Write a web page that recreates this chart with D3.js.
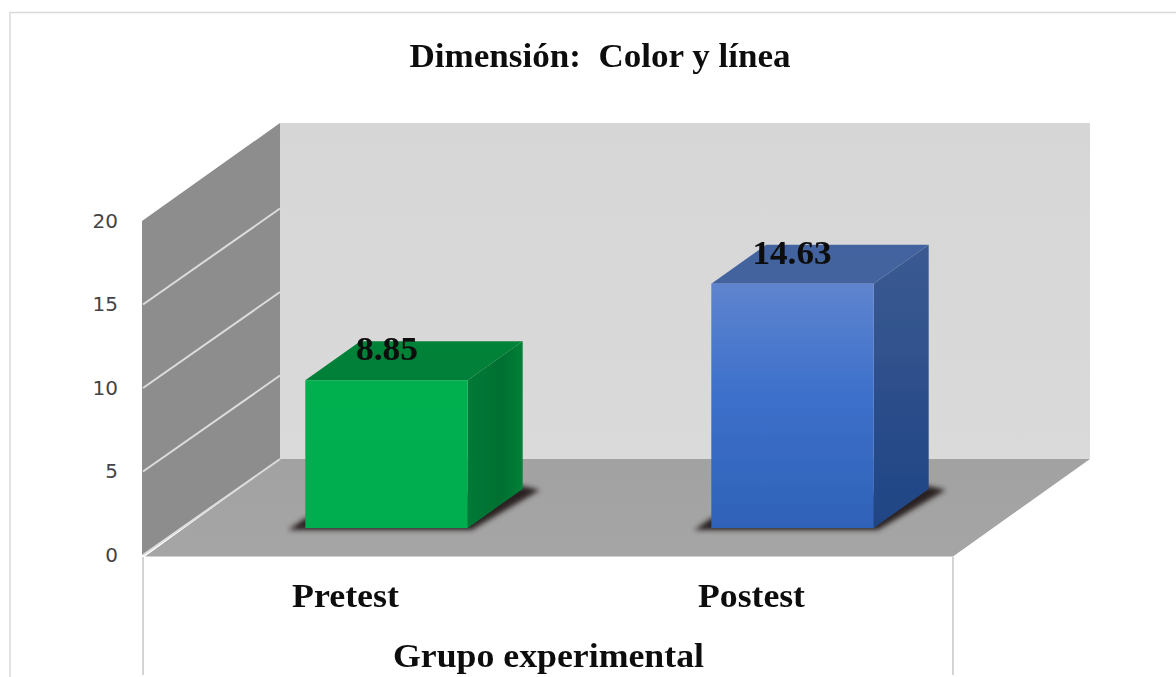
<!DOCTYPE html>
<html><head><meta charset="utf-8">
<script src="https://cdnjs.cloudflare.com/ajax/libs/d3/7.8.5/d3.min.js"></script>
<style>html,body{margin:0;padding:0;background:#fff;overflow:hidden}svg{display:block}</style>
</head><body><svg id="c" width="1176" height="677"></svg>
<script>
const categories = ["Pretest", "Postest"];
const values = [8.85, 14.63];
const valueLabels = ["8.85", "14.63"];
const yTicks = [0, 5, 10, 15, 20];
const titleText = "Dimensión:\u00A0\u00A0Color y línea";
const axisTitle = "Grupo experimental";

const svg = d3.select("#c");
const W = 1176, H = 677;

const frontLeft = 142, frontRight = 953, depthX = 138, depthY = -96;
const y = d3.scaleLinear().domain([0, 20]).range([555, 221]);
const barBase = 528;
const unit = y(0) - y(1);
const x = d3.scaleBand().domain(categories).range([183.5, 995.5]).paddingInner(0.6).paddingOuter(0.3);
const barDX = 55, barDY = -39;

const poly = pts => "M" + pts.map(p => p.join(",")).join("L") + "Z";

const defs = svg.append("defs");
function grad(id, x2, y2, stops) {
  const g = defs.append("linearGradient").attr("id", id).attr("x1", 0).attr("y1", 0).attr("x2", x2).attr("y2", y2);
  stops.forEach(s => g.append("stop").attr("offset", s[0]).attr("stop-color", s[1]));
}
grad("wall", 0, 1, [[0, "#d6d6d6"], [1, "#dadada"]]);
grad("floor", 0, 1, [[0, "#a2a2a2"], [1, "#a5a5a5"]]);
grad("blueFront", 0, 1, [[0, "#5f84cf"], [0.45, "#3d70cb"], [1, "#2f62b8"]]);
grad("blueSide", 0, 1, [[0, "#3b5a92"], [1, "#1f4484"]]);
grad("blueTop", 0, 1, [[0, "#43649f"], [1, "#43639d"]]);
grad("greenFront", 0, 1, [[0, "#00b050"], [1, "#00ad4f"]]);
grad("greenSide", 1, 0, [[0, "#007a37"], [0.6, "#006f31"], [1, "#008038"]]);
grad("greenTop", 0, 1, [[0, "#008238"], [1, "#007f37"]]);
defs.append("filter").attr("id", "shadow").attr("x", "-30%").attr("y", "-30%").attr("width", "160%").attr("height", "160%")
  .append("feGaussianBlur").attr("stdDeviation", 2.4);
defs.append("filter").attr("id", "soft").attr("x", "-5%").attr("y", "-5%").attr("width", "110%").attr("height", "110%")
  .append("feGaussianBlur").attr("stdDeviation", 0.5);
defs.append("filter").attr("id", "softText").attr("x", "-5%").attr("y", "-20%").attr("width", "110%").attr("height", "140%")
  .append("feGaussianBlur").attr("stdDeviation", 0.35);

svg.append("path").attr("d", `M10,${H}V12.5H${W}`).attr("fill", "none").attr("stroke", "#d9d9d9").attr("stroke-width", 1.5);

const serifBold = sel => sel.attr("font-family", "Liberation Serif").attr("font-weight", "bold")
  .attr("lengthAdjust", "spacingAndGlyphs").attr("filter", "url(#softText)");

svg.append("text").attr("x", 600).attr("y", 67).attr("text-anchor", "middle").attr("font-size", 33)
  .attr("textLength", 381).attr("fill", "#111").text(titleText).call(serifBold);

const box = svg.append("g").attr("filter", "url(#soft)");
const wallTop = y(20) + depthY - 2;

box.append("path").attr("fill", "url(#wall)")
  .attr("d", poly([[frontLeft + depthX, wallTop], [1090, wallTop], [1090, y(0) + depthY], [frontLeft + depthX, y(0) + depthY]]));
box.append("path").attr("fill", "#8d8d8d")
  .attr("d", poly([[frontLeft, y(0)], [frontLeft, y(20)], [frontLeft + depthX, wallTop], [frontLeft + depthX, y(0) + depthY]]));
box.append("path").attr("fill", "url(#floor)")
  .attr("d", poly([[frontLeft + 3, y(0) + 1.5], [frontLeft + depthX, y(0) + depthY], [frontLeft + depthX + 810, y(0) + depthY], [frontRight, y(0) + 1.5]]));

box.selectAll("line.grid").data(yTicks.filter(t => t < 20)).join("line").attr("class", "grid")
  .attr("x1", frontLeft + 1).attr("x2", frontLeft + depthX)
  .attr("y1", d => y(d)).attr("y2", d => y(d) + depthY)
  .attr("stroke", "#dcdcdc").attr("stroke-width", 2);

box.selectAll("line.sep").data([frontLeft + 1, frontRight]).join("line").attr("class", "sep")
  .attr("x1", d => d).attr("x2", d => d).attr("y1", y(0) + 2).attr("y2", H - 2)
  .attr("stroke", "#d4d4d4").attr("stroke-width", 2);

const palette = [
  { f: "url(#greenFront)", s: "url(#greenSide)", t: "url(#greenTop)" },
  { f: "url(#blueFront)", s: "url(#blueSide)", t: "url(#blueTop)" }
];
const bars = box.selectAll("g.bar").data(categories.map((c, i) => ({ c, v: values[i], p: palette[i] }))).join("g").attr("class", "bar");
bars.append("path").attr("fill", "#2a2420").attr("filter", "url(#shadow)")
  .attr("d", d => { const l = x(d.c), r = l + x.bandwidth();
    return poly([[l - 17, barBase + 2], [r + 4, barBase + 2], [r + barDX + 17, barBase + barDY + 1], [r + barDX, barBase + barDY - 3], [l, barBase - 10]]); });
bars.append("path").attr("fill", d => d.p.s)
  .attr("d", d => { const r = x(d.c) + x.bandwidth(), t = barBase - d.v * unit;
    return poly([[r, t], [r + barDX, t + barDY], [r + barDX, barBase + barDY], [r, barBase]]); });
bars.append("path").attr("fill", d => d.p.t)
  .attr("d", d => { const l = x(d.c), r = l + x.bandwidth(), t = barBase - d.v * unit;
    return poly([[l, t], [l + barDX, t + barDY], [r + barDX, t + barDY], [r, t]]); });
bars.append("rect").attr("fill", d => d.p.f)
  .attr("x", d => x(d.c)).attr("width", x.bandwidth())
  .attr("y", d => barBase - d.v * unit).attr("height", d => d.v * unit);

svg.selectAll("text.val").data(categories.map((c, i) => ({ c, v: values[i], label: valueLabels[i] }))).join("text").attr("class", "val")
  .attr("x", d => x(d.c) + x.bandwidth() / 2 + (d.c === categories[0] ? 0.5 : -0.5)).attr("y", d => barBase - d.v * unit - 20)
  .attr("text-anchor", "middle").attr("font-size", 33)
  .attr("textLength", d => d.label.length === 4 ? 62 : 79)
  .attr("fill", "#0a0a0a").text(d => d.label).call(serifBold);

const yAxis = d3.axisLeft(y).tickValues(yTicks).tickSize(0).tickPadding(0);
const ga = svg.append("g").attr("transform", "translate(118,0)").call(yAxis);
ga.select(".domain").remove();
ga.selectAll("text").attr("font-family", "DejaVu Sans").attr("font-size", 20).attr("fill", "#444");

svg.selectAll("text.cat").data(categories).join("text").attr("class", "cat")
  .attr("x", d => x(d) + x.bandwidth() / 2 - 41).attr("y", 607).attr("text-anchor", "middle").attr("font-size", 33)
  .attr("textLength", 107).attr("fill", "#111").text(d => d).call(serifBold);

svg.append("text").attr("x", 548.5).attr("y", 667).attr("text-anchor", "middle").attr("font-size", 33)
  .attr("textLength", 311).attr("fill", "#111").text(axisTitle).call(serifBold);
</script></body></html>
